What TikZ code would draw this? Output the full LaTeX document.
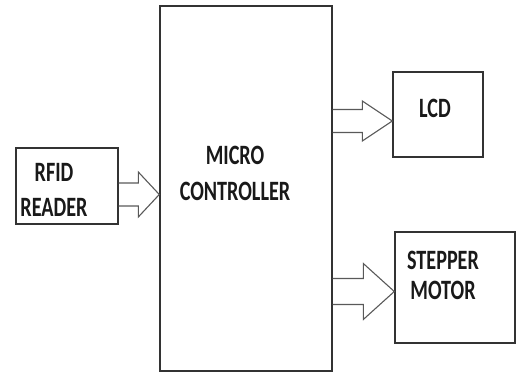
\documentclass[tikz,border=0pt]{standalone}
\usepackage{fontspec}
\setmainfont{Carlito}[FakeStretch=0.72]
\usetikzlibrary{calc}

\tikzset{
  blk/.style={draw=black!80, line width=1.4pt, fill=white, inner sep=0pt},
  lbl/.style={font=\bfseries\fontsize{28}{#1}\selectfont, align=center, inner sep=0pt, text=black!90},
  lbl/.default=35,
  fatline/.style={draw=black!65, line width=1.1pt, line join=miter}
}

% hollow block arrow: #1 base node anchor, #2 tip, #3 half shaft, #4 half head, #5 head length
\newcommand{\fatarrow}[5]{%
  \draw[fatline] let \p1=(#1), \p2=(#2) in
    (\x1,\y2+#3pt) -- (\x2-#5pt,\y2+#3pt) -- (\x2-#5pt,\y2+#4pt) -- (\p2)
    -- (\x2-#5pt,\y2-#4pt) -- (\x2-#5pt,\y2-#3pt) -- (\x1,\y2-#3pt);}

\begin{document}
\begin{tikzpicture}[x=1pt,y=-1pt]
  \useasboundingbox (0,0) rectangle (517,374);

  % blocks
  \node[blk, minimum width=102, minimum height=76] (rfid) at (67,186) {};
  \node[blk, minimum width=172, minimum height=365] (mcu) at (246,188.5) {};
  \node[blk, minimum width=90, minimum height=85] (lcd) at (438,114.5) {};
  \node[blk, minimum width=120, minimum height=111] (motor) at (455,287.5) {};

  % labels
  \node[lbl] (rfidtxt) at ($(rfid.center)+(-13,4)$) {RFID\\READER};
  \node[lbl=36] (mcutxt) at ($(mcu.center)+(-11,-15.5)$) {MICRO\\CONTROLLER};
  \node[lbl] (lcdtxt) at ($(lcd.center)+(-3,-6.5)$) {LCD};
  \node[lbl=30] (motortxt) at ($(motor.center)+(-12,-12.5)$) {STEPPER\\MOTOR};

  % arrow tips
  \coordinate (tipa) at (mcu.west |- 0,194.5);
  \coordinate (tipb) at (lcd.west |- 0,121);
  \coordinate (tipc) at (motor.west |- 0,291.5);

  \fatarrow{rfid.east}{tipa}{11.5}{22.5}{21}
  \fatarrow{mcu.east}{tipb}{11.5}{20}{30}
  \fatarrow{mcu.east}{tipc}{13}{28}{31}
\end{tikzpicture}
\end{document}
